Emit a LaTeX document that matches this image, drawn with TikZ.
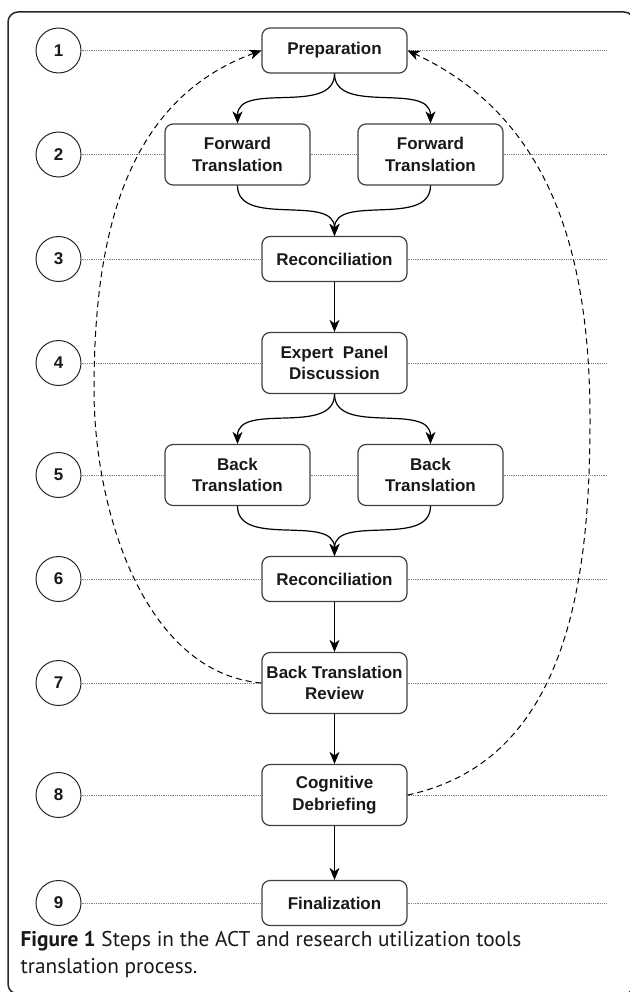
\documentclass[tikz,border=0pt]{standalone}
\usepackage{fontspec}
\setmainfont{Liberation Sans}
\newfontfamily\capfont{PT Sans}
\usetikzlibrary{arrows.meta}

\tikzset{
  stepbox/.style={draw=black!75, line width=1.2pt, rounded corners=8pt, fill=white,
    minimum width=145pt, minimum height=45pt, inner sep=1pt, align=center,
    text=black!90, font=\fontsize{17}{21.5}\selectfont\bfseries},
  twoline/.style={stepbox, minimum height=61pt},
  stepnum/.style={circle, draw=black!85, line width=1pt, minimum size=45pt, inner sep=0pt,
    text=black!90, font=\fontsize{17}{17}\selectfont\bfseries},
  rowline/.style={draw=black!50, line width=0.8pt, dash pattern=on 1pt off 0.8pt},
  feedback/.style={->, line width=1pt, dash pattern=on 6pt off 4pt},
}

\begin{document}
\begin{tikzpicture}[x=1pt, y=1pt, line width=1.2pt, >={Stealth[length=12pt,width=10pt,inset=3.5pt]}]
    \useasboundingbox (0,0) rectangle (629,-992);
    \draw[line width=1.5pt, draw=black!85, rounded corners=10pt] (8,-12) rectangle (634,-994);

    % step numbers
    \node[stepnum] (s1) at (58.5,-50.5) {1};
    \node[stepnum] (s2) at (58.5,-154.5) {2};
    \node[stepnum] (s3) at (58.5,-259) {3};
    \node[stepnum] (s4) at (58.5,-363) {4};
    \node[stepnum] (s5) at (58.5,-475) {5};
    \node[stepnum] (s6) at (58.5,-579) {6};
    \node[stepnum] (s7) at (58.5,-683) {7};
    \node[stepnum] (s8) at (58.5,-795) {8};
    \node[stepnum] (s9) at (58.5,-903) {9};

    % row ends
    \coordinate (e1) at (607,-50.5);
    \coordinate (e2) at (607,-154.5);
    \coordinate (e3) at (607,-259);
    \coordinate (e4) at (607,-363);
    \coordinate (e5) at (607,-475);
    \coordinate (e6) at (607,-579);
    \coordinate (e7) at (607,-683);
    \coordinate (e8) at (607,-795);
    \coordinate (e9) at (607,-903);

    % steps
    \node[stepbox] (prep) at (334.5,-50.5) {Preparation};
    \node[twoline] (fwdA) at (237.5,-154.5) {Forward\\Translation};
    \node[twoline] (fwdB) at (430.5,-154.5) {Forward\\Translation};
    \node[stepbox] (recA) at (334.5,-259) {Reconciliation};
    \node[twoline] (panel) at (334.5,-363) {Expert\ \ Panel\\Discussion};
    \node[twoline] (backA) at (237.5,-475) {Back\\Translation};
    \node[twoline] (backB) at (430.5,-475) {Back\\Translation};
    \node[stepbox] (recB) at (334.5,-579) {Reconciliation};
    \node[twoline] (review) at (334.5,-683) {Back Translation\\Review};
    \node[twoline] (debrief) at (334.5,-795) {Cognitive\\Debriefing};
    \node[stepbox] (final) at (334.5,-903) {Finalization};

    % dotted rows
    \draw[rowline] (s1) -- (prep) -- (e1);
    \draw[rowline] (s2) -- (fwdA) -- (fwdB) -- (e2);
    \draw[rowline] (s3) -- (recA) -- (e3);
    \draw[rowline] (s4) -- (panel) -- (e4);
    \draw[rowline] (s5) -- (backA) -- (backB) -- (e5);
    \draw[rowline] (s6) -- (recB) -- (e6);
    \draw[rowline] (s7) -- (review) -- (e7);
    \draw[rowline] (s8) -- (debrief) -- (e8);
    \draw[rowline] (s9) -- (final) -- (e9);

    % flow
    \draw[->] (prep.south) to [out=-90,in=90] (fwdA.north);
    \draw[->] (prep.south) to [out=-90,in=90] (fwdB.north);
    \draw[->] (fwdA.south) to [out=-90,in=90] (recA.north);
    \draw[->] (fwdB.south) to [out=-90,in=90] (recA.north);
    \draw[->] (recA) -- (panel);
    \draw[->] (panel.south) to [out=-90,in=90] (backA.north);
    \draw[->] (panel.south) to [out=-90,in=90] (backB.north);
    \draw[->] (backA.south) to [out=-90,in=90] (recB.north);
    \draw[->] (backB.south) to [out=-90,in=90] (recB.north);
    \draw[->] (recB) -- (review);
    \draw[->] (review) -- (debrief);
    \draw[->] (debrief) -- (final);

    % feedback loops
    \coordinate (lturn) at (94,-390);
    \coordinate (rturn) at (590,-420);
    \draw[feedback] (review.west) to [out=175,in=-90,looseness=0.9] (lturn) to [out=90,in=200] (prep.west);
    \draw[feedback] (debrief.east) to [out=12,in=-90] (rturn) to [out=90,in=-25] (prep.east);

    % caption
    \node[anchor=north west, inner sep=0pt, align=left, text=black!90,
          font=\capfont\fontsize{21.3}{27}\selectfont] (cap) at (20,-931)
        {\textbf{Figure 1} Steps in the ACT and research utilization tools\\translation process.};
\end{tikzpicture}
\end{document}
